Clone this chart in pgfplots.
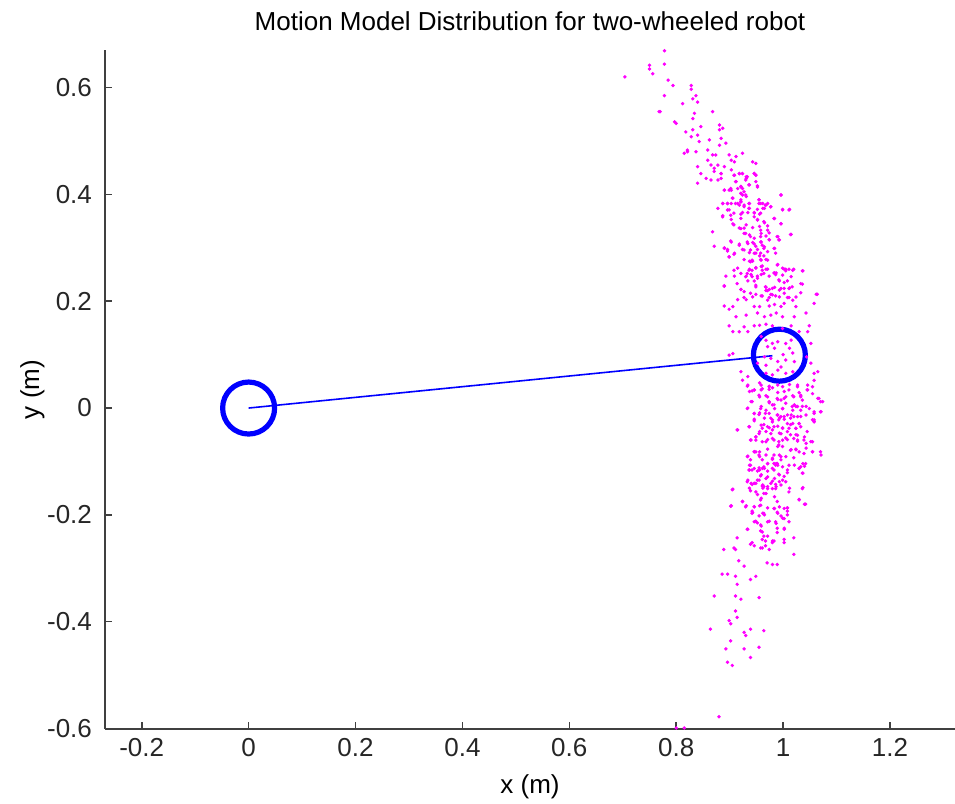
\documentclass[border=0pt]{standalone}
\usepackage{fontspec}
\setmainfont{Liberation Sans}
\usepackage{pgfplots}
\pgfplotsset{compat=1.18}
\usepackage{pgfplotstable}
\definecolor{mag}{RGB}{255,0,255}
\definecolor{mblue}{RGB}{0,0,255}
\pgfplotstableread{
x y
0.704 0.620
0.750 0.642
0.750 0.635
0.756 0.626
0.768 0.555
0.778 0.669
0.778 0.644
0.785 0.614
0.794 0.604
0.828 0.604
0.828 0.597
0.778 0.585
0.837 0.585
0.831 0.579
0.840 0.573
0.812 0.570
0.770 0.555
0.834 0.552
0.868 0.555
0.831 0.542
0.797 0.536
0.800 0.533
0.881 0.530
0.887 0.524
0.846 0.527
0.818 0.517
0.831 0.521
0.881 0.521
0.840 0.511
0.828 0.508
0.884 0.505
0.862 0.502
0.843 0.499
0.893 0.496
0.881 0.492
0.821 0.483
0.821 0.480
0.815 0.477
0.837 0.480
0.859 0.483
0.868 0.474
0.874 0.474
0.899 0.474
0.912 0.471
0.924 0.477
0.859 0.464
0.903 0.464
0.909 0.461
0.943 0.461
0.949 0.458
0.840 0.452
0.865 0.455
0.878 0.455
0.890 0.452
0.871 0.449
0.871 0.443
0.846 0.439
0.884 0.439
0.903 0.446
0.918 0.439
0.924 0.439
0.946 0.439
0.949 0.436
0.909 0.436
0.931 0.433
0.856 0.430
0.865 0.427
0.884 0.430
0.878 0.427
0.931 0.430
0.840 0.421
0.912 0.424
0.949 0.424
0.937 0.418
0.952 0.414
0.921 0.414
0.915 0.411
0.903 0.408
0.899 0.408
0.890 0.408
0.927 0.405
0.921 0.402
0.924 0.399
0.931 0.396
0.906 0.393
0.996 0.399
0.921 0.390
0.921 0.386
0.955 0.390
0.955 0.383
0.962 0.383
0.971 0.383
0.968 0.380
0.977 0.377
0.887 0.383
0.896 0.383
0.903 0.383
0.915 0.383
0.918 0.380
0.937 0.383
0.927 0.377
0.878 0.374
0.896 0.371
0.937 0.374
0.962 0.374
0.965 0.374
0.999 0.372
1.012 0.372
0.887 0.360
0.903 0.353
0.921 0.363
0.934 0.366
0.946 0.365
0.956 0.363
0.952 0.353
0.965 0.347
0.984 0.355
0.996 0.345
0.906 0.345
0.921 0.336
0.931 0.343
0.943 0.338
0.956 0.340
0.971 0.341
0.868 0.330
0.927 0.327
0.937 0.324
0.959 0.327
0.968 0.322
0.974 0.315
0.990 0.321
0.993 0.315
1.015 0.325
0.903 0.311
0.918 0.307
0.934 0.308
0.943 0.310
0.949 0.303
0.959 0.311
0.965 0.302
0.871 0.303
0.890 0.300
0.896 0.297
0.909 0.290
0.927 0.296
0.937 0.291
0.949 0.290
0.956 0.285
0.971 0.293
0.984 0.299
0.899 0.283
0.937 0.275
0.943 0.275
0.959 0.277
0.968 0.278
0.915 0.262
0.937 0.260
0.949 0.263
0.959 0.265
0.968 0.260
0.990 0.269
1.002 0.260
1.005 0.257
0.984 0.253
0.987 0.253
1.018 0.258
1.037 0.257
0.909 0.247
0.931 0.247
0.940 0.250
0.952 0.247
0.959 0.250
0.974 0.247
0.934 0.238
0.946 0.238
0.993 0.238
1.002 0.235
1.015 0.246
0.890 0.229
0.921 0.222
0.927 0.218
0.949 0.227
0.968 0.226
0.974 0.222
0.984 0.226
0.968 0.220
0.993 0.221
1.002 0.224
1.012 0.225
1.033 0.233
0.915 0.203
0.931 0.203
0.943 0.208
0.959 0.210
0.971 0.202
0.980 0.212
0.993 0.208
1.008 0.207
1.018 0.202
1.033 0.216
1.062 0.213
1.058 0.196
0.890 0.191
0.906 0.190
0.946 0.190
0.956 0.190
0.974 0.191
0.984 0.194
0.996 0.190
1.002 0.196
1.024 0.190
0.899 0.185
0.931 0.174
0.952 0.178
0.965 0.171
0.977 0.174
0.987 0.178
0.999 0.171
1.021 0.171
1.043 0.178
0.912 0.171
0.899 0.154
0.927 0.152
0.946 0.154
0.956 0.155
0.968 0.157
0.980 0.154
0.999 0.149
1.015 0.154
1.049 0.154
0.906 0.143
0.918 0.143
0.934 0.143
1.030 0.143
1.046 0.143
1.052 0.121
0.899 0.099
0.906 0.102
1.052 0.084
1.044 0.096
0.959 0.134
0.968 0.127
0.980 0.121
0.990 0.124
1.005 0.121
1.015 0.127
0.971 0.115
0.984 0.112
1.000 0.100
1.012 0.112
1.018 0.103
0.965 0.096
0.977 0.093
0.990 0.087
1.005 0.090
1.021 0.087
0.952 0.084
0.968 0.080
0.996 0.077
0.921 0.068
0.934 0.059
0.924 0.052
0.956 0.047
0.968 0.065
0.980 0.062
0.990 0.071
1.005 0.065
1.018 0.068
1.058 0.065
1.065 0.068
0.934 0.043
0.959 0.043
0.974 0.041
0.990 0.043
1.012 0.044
1.027 0.043
1.046 0.043
1.058 0.052
0.937 0.031
0.946 0.034
0.959 0.034
0.974 0.035
0.990 0.029
1.002 0.031
1.030 0.029
1.046 0.034
0.956 0.021
0.968 0.023
0.990 0.016
1.002 0.018
1.018 0.023
1.033 0.024
1.055 0.027
1.065 0.018
1.074 0.012
0.940 0.012
0.974 0.010
0.980 0.006
1.005 0.009
1.021 0.006
1.027 0.003
1.043 0.003
0.934 0.000
0.959 0.003
0.968 -0.004
0.984 -0.001
0.999 -0.001
1.018 -0.004
1.033 -0.004
1.058 -0.007
1.071 -0.007
0.946 -0.010
0.956 -0.009
0.974 -0.010
0.990 -0.013
1.002 -0.016
1.015 -0.013
1.027 -0.016
1.043 -0.013
0.946 -0.021
0.965 -0.019
0.980 -0.022
0.993 -0.019
1.008 -0.029
1.018 -0.029
1.030 -0.029
1.058 -0.022
1.058 -0.025
0.959 -0.032
0.971 -0.035
0.980 -0.041
0.990 -0.034
0.999 -0.038
1.024 -0.038
0.915 -0.041
0.937 -0.035
0.956 -0.044
0.968 -0.044
0.993 -0.047
1.008 -0.044
1.024 -0.050
1.040 -0.054
0.940 -0.060
0.949 -0.054
0.968 -0.063
0.980 -0.057
0.999 -0.060
1.008 -0.059
1.027 -0.060
1.043 -0.066
1.055 -0.063
0.990 -0.072
1.015 -0.078
1.024 -0.078
1.043 -0.075
1.055 -0.082
0.946 -0.082
0.956 -0.082
0.934 -0.090
0.956 -0.091
0.968 -0.088
0.993 -0.088
1.005 -0.091
1.071 -0.088
0.980 -0.094
0.996 -0.097
0.971 -0.104
0.987 -0.104
0.990 -0.107
1.021 -0.107
1.037 -0.104
0.937 -0.107
0.946 -0.113
0.956 -0.116
0.965 -0.113
0.937 -0.116
0.980 -0.113
1.008 -0.116
1.030 -0.113
1.040 -0.109
1.037 -0.122
0.993 -0.125
0.959 -0.125
0.934 -0.135
0.952 -0.135
0.968 -0.132
0.984 -0.132
1.002 -0.128
0.940 -0.141
0.946 -0.141
0.962 -0.144
0.977 -0.141
0.993 -0.138
1.005 -0.138
0.937 -0.150
0.962 -0.150
0.971 -0.147
0.987 -0.147
1.012 -0.150
1.037 -0.149
0.906 -0.152
0.949 -0.157
0.968 -0.160
0.959 -0.169
0.984 -0.166
1.030 -0.171
0.924 -0.175
0.903 -0.183
0.931 -0.183
0.946 -0.185
0.956 -0.183
0.984 -0.188
0.993 -0.185
1.008 -0.187
1.040 -0.180
0.943 -0.196
0.962 -0.197
0.965 -0.200
0.990 -0.197
0.999 -0.206
1.008 -0.200
0.946 -0.213
0.952 -0.215
0.971 -0.213
0.987 -0.216
0.934 -0.227
0.959 -0.221
1.002 -0.225
0.914 -0.243
0.964 -0.240
0.971 -0.240
0.961 -0.246
0.967 -0.249
0.980 -0.249
0.983 -0.249
0.980 -0.252
1.002 -0.246
1.002 -0.252
1.020 -0.243
0.989 -0.233
0.958 -0.230
0.889 -0.265
0.908 -0.262
0.911 -0.265
0.939 -0.255
0.942 -0.252
0.946 -0.258
0.958 -0.262
0.961 -0.262
0.967 -0.258
0.974 -0.265
1.020 -0.274
0.917 -0.286
0.927 -0.296
0.970 -0.290
0.980 -0.293
0.989 -0.293
0.886 -0.311
0.896 -0.311
0.911 -0.315
0.949 -0.315
0.939 -0.321
0.914 -0.330
0.871 -0.352
0.911 -0.352
0.921 -0.358
0.955 -0.355
0.911 -0.380
0.914 -0.392
0.899 -0.398
0.902 -0.404
0.864 -0.414
0.939 -0.414
0.964 -0.417
0.927 -0.420
0.930 -0.426
0.902 -0.436
0.893 -0.451
0.927 -0.451
0.955 -0.448
0.939 -0.467
0.896 -0.476
0.905 -0.482
0.880 -0.578
0.800 -0.599
0.815 -0.599
0.884 0.439
0.908 0.436
0.918 0.439
0.924 0.439
0.933 0.433
0.946 0.439
0.949 0.436
0.911 0.424
0.930 0.427
0.936 0.418
0.952 0.416
0.921 0.415
0.924 0.411
0.902 0.411
0.890 0.408
0.921 0.402
0.930 0.399
0.996 0.399
0.905 0.393
0.921 0.386
0.887 0.383
0.896 0.383
0.911 0.383
0.936 0.383
0.955 0.390
0.958 0.383
0.971 0.383
0.967 0.380
0.977 0.377
0.927 0.380
0.899 0.371
0.936 0.374
0.952 0.372
0.999 0.371
1.011 0.371
0.908 0.365
0.924 0.366
0.946 0.366
0.958 0.365
0.902 0.361
0.887 0.358
0.946 0.358
0.921 0.355
0.983 0.355
0.952 0.352
0.964 0.349
0.908 0.343
0.996 0.345
0.918 0.337
0.927 0.337
0.958 0.333
0.971 0.333
0.974 0.328
0.930 0.327
1.014 0.325
0.939 0.321
0.946 0.318
0.958 0.321
0.989 0.321
0.992 0.315
0.902 0.313
0.933 0.311
0.958 0.311
0.974 0.315
0.918 0.305
0.946 0.307
0.961 0.305
0.924 0.297
0.939 0.296
0.952 0.297
0.964 0.299
0.983 0.299
0.890 0.299
0.896 0.294
0.946 0.290
0.899 0.283
0.908 0.288
0.958 0.290
0.964 0.285
0.986 0.290
0.927 0.278
0.939 0.274
0.942 0.277
0.958 0.278
0.971 0.277
0.989 0.268
0.961 0.266
0.949 0.262
0.908 0.258
0.936 0.258
0.942 0.258
0.961 0.258
0.971 0.260
0.999 0.262
1.005 0.260
1.011 0.260
1.020 0.260
1.036 0.257
0.921 0.252
0.933 0.252
0.964 0.252
0.983 0.253
0.986 0.250
0.893 0.247
0.930 0.246
0.942 0.246
0.952 0.243
0.999 0.249
0.992 0.240
1.008 0.238
0.914 0.233
0.949 0.230
0.967 0.227
0.980 0.224
0.996 0.224
1.011 0.224
1.017 0.227
1.036 0.232
0.890 0.228
0.921 0.222
0.971 0.220
0.939 0.215
0.949 0.213
0.961 0.210
0.977 0.213
0.986 0.210
1.002 0.215
1.064 0.213
0.927 0.207
0.974 0.207
1.011 0.207
1.024 0.208
0.933 0.041
0.942 0.032
0.946 0.034
0.961 0.036
0.974 0.040
0.980 0.038
0.999 0.040
1.011 0.034
1.027 0.040
1.045 0.034
1.055 0.040
0.955 0.024
0.971 0.021
0.989 0.018
0.996 0.015
1.005 0.021
1.020 0.021
1.033 0.021
1.036 0.015
1.067 0.018
0.942 0.012
0.974 0.012
0.983 0.006
0.933 -0.001
0.958 -0.001
0.999 -0.001
1.017 0.003
1.024 0.003
1.036 0.003
1.049 -0.001
1.070 0.012
1.058 -0.010
1.070 -0.007
0.946 -0.010
0.955 -0.012
0.967 -0.010
0.989 -0.013
0.996 -0.016
1.008 -0.013
1.020 -0.016
1.033 -0.016
0.977 -0.019
1.002 -0.021
1.014 -0.019
0.946 -0.024
0.980 -0.026
0.992 -0.022
1.055 -0.022
1.058 -0.026
0.964 -0.031
0.974 -0.037
0.983 -0.035
1.014 -0.031
1.030 -0.029
0.936 -0.035
0.914 -0.041
0.961 -0.038
0.999 -0.037
1.011 -0.038
1.024 -0.038
1.033 -0.035
1.045 -0.044
0.955 -0.048
0.977 -0.048
0.996 -0.048
1.014 -0.050
1.027 -0.051
0.949 -0.054
1.005 -0.056
1.020 -0.057
0.949 -0.060
0.939 -0.060
0.971 -0.059
0.983 -0.060
0.992 -0.063
1.027 -0.062
1.039 -0.060
1.052 -0.063
0.961 -0.063
0.992 -0.069
0.999 -0.072
1.014 -0.079
1.024 -0.077
1.030 -0.082
1.039 -0.085
1.055 -0.082
1.070 -0.082
0.971 -0.077
0.933 -0.091
0.946 -0.082
0.949 -0.082
0.955 -0.088
0.983 -0.088
0.996 -0.091
1.020 -0.093
1.042 -0.104
0.939 -0.097
0.961 -0.097
0.980 -0.096
0.983 -0.104
0.986 -0.107
0.989 -0.104
0.999 -0.110
1.011 -0.107
1.033 -0.110
0.939 -0.107
0.955 -0.112
0.964 -0.110
0.971 -0.104
0.952 -0.118
0.961 -0.113
0.971 -0.118
0.936 -0.116
0.942 -0.116
0.983 -0.116
1.008 -0.121
1.030 -0.113
1.036 -0.122
0.958 -0.127
0.971 -0.129
0.992 -0.124
0.955 -0.135
0.980 -0.137
0.999 -0.135
0.933 -0.138
0.942 -0.143
0.949 -0.141
0.964 -0.147
0.961 -0.146
0.986 -0.143
0.996 -0.144
0.905 -0.153
0.939 -0.155
0.952 -0.162
0.964 -0.160
0.971 -0.151
0.980 -0.151
0.986 -0.151
1.011 -0.157
1.036 -0.151
0.924 -0.175
0.958 -0.172
0.989 -0.175
1.030 -0.172
1.042 -0.180
0.902 -0.184
0.930 -0.185
0.946 -0.185
0.958 -0.182
0.971 -0.187
0.983 -0.188
1.002 -0.188
1.008 -0.187
0.942 -0.193
0.964 -0.197
0.942 -0.197
0.989 -0.195
1.008 -0.193
0.955 -0.202
0.996 -0.202
1.002 -0.207
0.949 -0.212
0.974 -0.212
0.986 -0.213
1.011 -0.213
0.933 -0.227
0.958 -0.219
0.961 -0.232
0.989 -0.225
1.002 -0.227
}\cloudtable
\pgfplotstableread{
x y
0 0
0.98 0.098
}\trajtable
\pgfplotstableread{
x y
0 0
0.993 0.099
}\robottable
\begin{document}
\begin{tikzpicture}
\path[use as bounding box] (-52.5pt,-37.5pt) rectangle (425pt,364.5pt);
\begin{axis}[
  at={(0pt,0pt)}, anchor=south west,
  scale only axis, width=425pt, height=339.5pt,
  xmin=-0.2687, xmax=1.3216, ymin=-0.601, ymax=0.6705,
  clip=false,
  axis lines*=left,
  axis line style={black!75, line width=0.8pt},
  tick align=inside,
  major tick length=3.5pt,
  tick style={black!75, line width=0.8pt},
  xtick={-0.2,0,0.2,0.4,0.6,0.8,1,1.2},
  xticklabels={-0.2,0,0.2,0.4,0.6,0.8,1,1.2},
  ytick={-0.6,-0.4,-0.2,0,0.2,0.4,0.6},
  yticklabels={-0.6,-0.4,-0.2,0,0.2,0.4,0.6},
  ticklabel style={font=\fontsize{13}{15}\selectfont, text=black!85},
  xticklabel style={anchor=base, yshift=-14pt},
  yticklabel style={anchor=east, xshift=-3pt},
  title={Motion Model Distribution for two-wheeled robot},
  title style={font=\fontsize{13}{15}\selectfont, at={(axis description cs:0.5,1.0103)}, anchor=base, yshift=0pt},
  xlabel={x (m)},
  xlabel style={font=\fontsize{13}{15}\selectfont, at={(axis description cs:0.5,-0.0957)}, anchor=base},
  ylabel={y (m)},
  ylabel style={font=\fontsize{13}{15}\selectfont, at={(axis description cs:-0.0776,0.5)}, anchor=base},
]
\addplot[mblue, line width=0.8pt] table {\trajtable};
\addplot[only marks, mark=o, mark size=13pt, mblue, mark options={line width=2.6pt}] table {\robottable};
\addplot[only marks, mark=*, mark size=0.65pt, mag, mark options={draw=mag, fill=mag}] table {\cloudtable};
\end{axis}
\end{tikzpicture}
\end{document}
